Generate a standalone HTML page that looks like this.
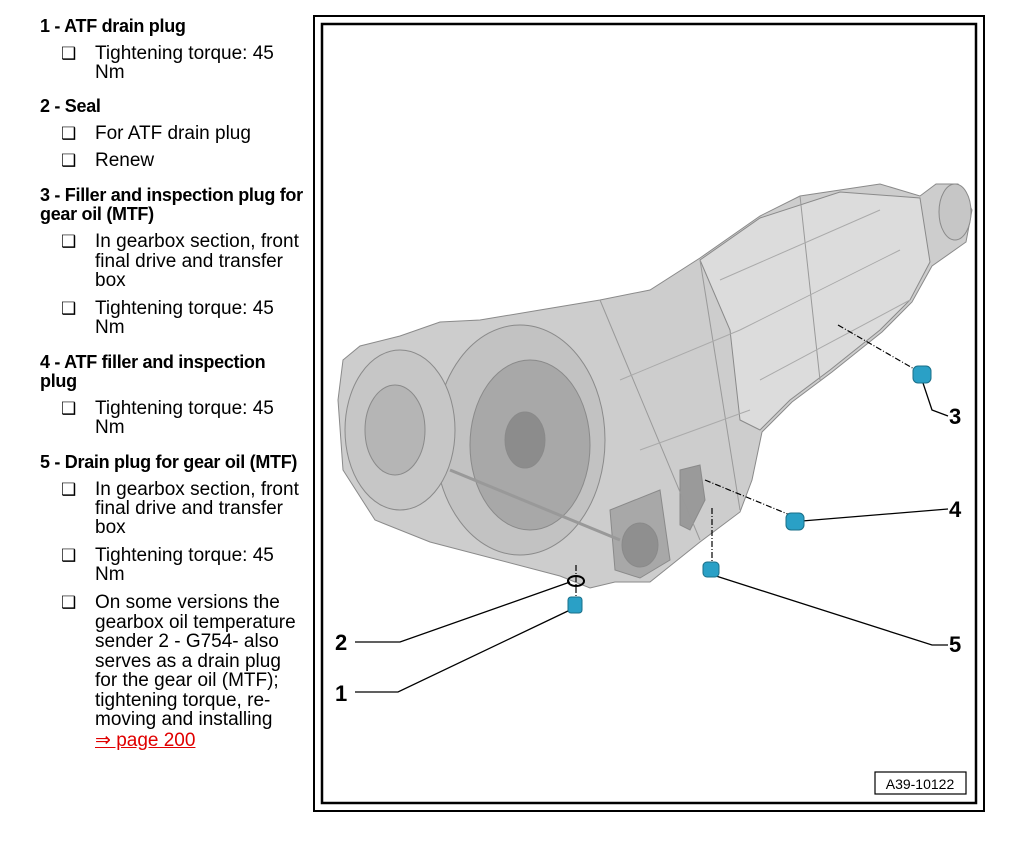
<!DOCTYPE html>
<html><head><meta charset="utf-8"><style>
body{margin:0;width:1024px;height:851px;background:#fff;position:relative;overflow:hidden;font-family:"Liberation Sans",Arial,sans-serif;color:#000}
.t{position:absolute;white-space:nowrap;font-size:19px;line-height:20px}
.h{position:absolute;white-space:nowrap;font-size:18px;font-weight:bold;letter-spacing:-0.3px;line-height:20px;left:40px}
.b{position:absolute;left:61px;font-size:17px;line-height:20px}
a{color:#e00000;text-decoration:underline}
</style></head><body>
<div class="h" style="top:16px">1 - ATF drain plug</div>
<div class="b" style="top:44px">❑</div><div class="t" style="left:95px;top:44px">Tightening torque: 45</div>
<div class="t" style="left:95px;top:63px">Nm</div>
<div class="h" style="top:96px">2 - Seal</div>
<div class="b" style="top:124px">❑</div><div class="t" style="left:95px;top:124px">For ATF drain plug</div>
<div class="b" style="top:151px">❑</div><div class="t" style="left:95px;top:151px">Renew</div>
<div class="h" style="top:185px">3 - Filler and inspection plug for</div>
<div class="h" style="top:204px">gear oil (MTF)</div>
<div class="b" style="top:232px">❑</div><div class="t" style="left:95px;top:232px">In gearbox section, front</div>
<div class="t" style="left:95px;top:252px">final drive and transfer</div>
<div class="t" style="left:95px;top:271px">box</div>
<div class="b" style="top:299px">❑</div><div class="t" style="left:95px;top:299px">Tightening torque: 45</div>
<div class="t" style="left:95px;top:318px">Nm</div>
<div class="h" style="top:352px">4 - ATF filler and inspection</div>
<div class="h" style="top:371px">plug</div>
<div class="b" style="top:399px">❑</div><div class="t" style="left:95px;top:399px">Tightening torque: 45</div>
<div class="t" style="left:95px;top:418px">Nm</div>
<div class="h" style="top:452px">5 - Drain plug for gear oil (MTF)</div>
<div class="b" style="top:480px">❑</div><div class="t" style="left:95px;top:480px">In gearbox section, front</div>
<div class="t" style="left:95px;top:499px">final drive and transfer</div>
<div class="t" style="left:95px;top:518px">box</div>
<div class="b" style="top:546px">❑</div><div class="t" style="left:95px;top:546px">Tightening torque: 45</div>
<div class="t" style="left:95px;top:565px">Nm</div>
<div class="b" style="top:593px">❑</div><div class="t" style="left:95px;top:593px">On some versions the</div>
<div class="t" style="left:95px;top:613px">gearbox oil temperature</div>
<div class="t" style="left:95px;top:632px">sender 2 - G754- also</div>
<div class="t" style="left:95px;top:652px">serves as a drain plug</div>
<div class="t" style="left:95px;top:671px">for the gear oil (MTF);</div>
<div class="t" style="left:95px;top:691px">tightening torque, re-</div>
<div class="t" style="left:95px;top:710px">moving and installing</div>
<div class="t" style="left:95px;top:731px"><a>⇒ page 200</a></div>

<svg style="position:absolute;left:0;top:0" width="1024" height="851">
<rect x="314" y="16" width="670" height="795" fill="none" stroke="#000" stroke-width="2"/>
<rect x="322" y="24" width="654" height="779" fill="none" stroke="#000" stroke-width="2.5"/>
<g stroke="#8a8a8a" stroke-width="1">
<polygon fill="#cdcdcd" points="343,360 338,400 343,470 375,520 430,542 560,576 590,588 615,582 650,582 700,542 740,512 752,480 762,432 792,402 832,372 882,332 912,302 932,266 966,242 972,210 958,184 936,184 920,196 880,184 840,190 800,196 760,216 700,258 650,290 600,300 540,310 480,320 440,322 400,336 360,346"/>
<polygon fill="#dcdcdc" points="700,260 760,218 840,192 920,198 930,262 910,300 880,330 830,370 790,400 760,430 740,420 730,330"/>
<ellipse cx="520" cy="440" rx="85" ry="115" fill="#c2c2c2"/>
<ellipse cx="530" cy="445" rx="60" ry="85" fill="#a8a8a8"/>
<ellipse cx="525" cy="440" rx="20" ry="28" fill="#8c8c8c"/>
<ellipse cx="400" cy="430" rx="55" ry="80" fill="#c6c6c6"/>
<ellipse cx="395" cy="430" rx="30" ry="45" fill="#b5b5b5"/>
<ellipse cx="955" cy="212" rx="16" ry="28" fill="#c6c6c6"/>
<polygon fill="#a8a8a8" points="610,510 660,490 670,560 640,578 615,570"/>
<ellipse cx="640" cy="545" rx="18" ry="22" fill="#8f8f8f"/>
<polygon fill="#9a9a9a" points="680,470 700,465 705,500 690,530 680,525"/>
<line x1="600" y1="300" x2="700" y2="540" stroke="#999"/>
<line x1="700" y1="260" x2="740" y2="510" stroke="#999"/>
<line x1="800" y1="196" x2="820" y2="380" stroke="#999"/>
<line x1="720" y1="280" x2="880" y2="210" stroke="#aaa"/>
<line x1="740" y1="330" x2="900" y2="250" stroke="#aaa"/>
<line x1="760" y1="380" x2="910" y2="300" stroke="#aaa"/>
<line x1="620" y1="380" x2="740" y2="330" stroke="#aaa"/>
<line x1="640" y1="450" x2="750" y2="410" stroke="#aaa"/>
<line x1="450" y1="470" x2="620" y2="540" stroke="#999" stroke-width="3"/>
</g>
<g stroke="#000" stroke-width="1.2" fill="none" stroke-dasharray="6,2,1,2">
<line x1="838" y1="325" x2="916" y2="370"/>
<line x1="705" y1="480" x2="790" y2="515"/>
<line x1="712" y1="508" x2="712" y2="563"/>
<line x1="576" y1="565" x2="576" y2="598"/>
</g>
<g stroke="#000" stroke-width="1.3" fill="none">
<polyline points="355,642 400,642 570,582"/>
<polyline points="355,692 398,692 570,610"/>
<polyline points="922,380 932,410 948,416"/>
<polyline points="948,509 802,521"/>
<polyline points="948,645 932,645 716,576"/>
</g>
<g fill="#2aa0c6" stroke="#1a6f88">
<rect x="913" y="366" width="18" height="17" rx="5"/>
<rect x="786" y="513" width="18" height="17" rx="5"/>
<rect x="703" y="562" width="16" height="15" rx="4"/>
<rect x="568" y="597" width="14" height="16" rx="3"/>
</g>
<ellipse cx="576" cy="581" rx="8" ry="5" fill="none" stroke="#000" stroke-width="2"/>
<g font-family="Liberation Sans,Arial,sans-serif" font-weight="bold" font-size="22">
<text x="335" y="650">2</text><text x="335" y="701">1</text>
<text x="949" y="424">3</text><text x="949" y="517">4</text><text x="949" y="652">5</text>
</g>
<rect x="875" y="772" width="91" height="22" fill="#fff" stroke="#000" stroke-width="1.2"/>
<text x="920" y="789" font-family="Liberation Sans,Arial,sans-serif" font-size="14" text-anchor="middle">A39-10122</text>
</svg>
</body></html>
